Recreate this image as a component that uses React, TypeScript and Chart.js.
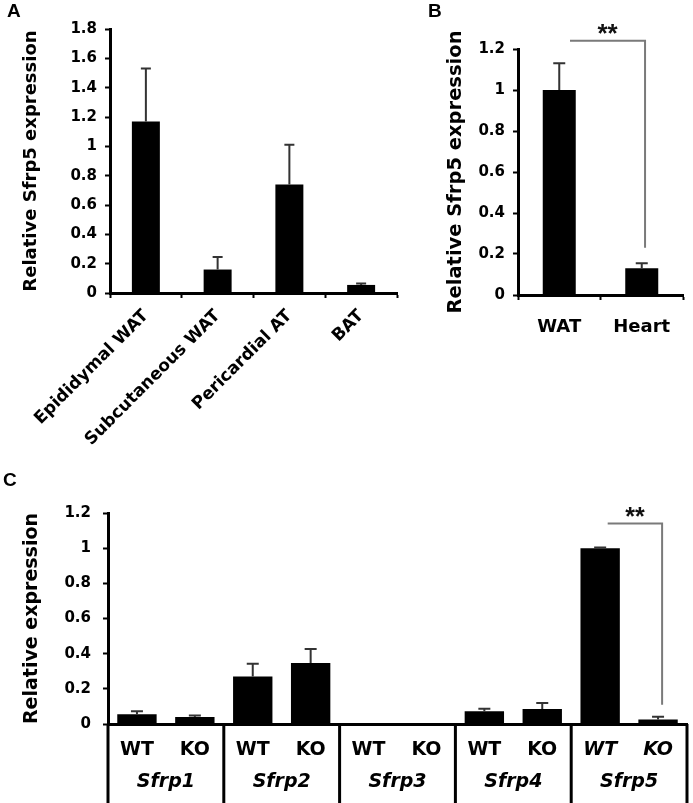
import React, { useEffect, useRef } from 'react';
import { Chart, registerables } from 'chart.js';

Chart.register(...registerables);

const FONT = "'DejaVu Sans', sans-serif";

// ---------- Panel A: Sfrp5 expression across adipose depots ----------
const tissueLabels = ['Epididymal WAT', 'Subcutaneous WAT', 'Pericardial AT', 'BAT'];
const tissueValues = [1.17, 0.16, 0.74, 0.055];
const tissueErrors = [0.36, 0.085, 0.27, 0.01];
const tissueTicks = [0, 0.2, 0.4, 0.6, 0.8, 1, 1.2, 1.4, 1.6, 1.8];

// ---------- Panel B: WAT vs Heart ----------
const organLabels = ['WAT', 'Heart'];
const organValues = [1.0, 0.13];
const organErrors = [0.13, 0.025];
const organTicks = [0, 0.2, 0.4, 0.6, 0.8, 1, 1.2];
const organSignificance = { label: '**', from: 0.13, to: 1.04, top: 1.24, bottom: 0.23 };

// ---------- Panel C: Sfrp family in WT vs KO ----------
const geneNames = ['Sfrp1', 'Sfrp2', 'Sfrp3', 'Sfrp4', 'Sfrp5'];
const genotypeLabels = ['WT', 'KO', 'WT', 'KO', 'WT', 'KO', 'WT', 'KO', 'WT', 'KO'];
const expressionValues = [0.055, 0.04, 0.27, 0.347, 0, 0, 0.072, 0.086, 1.0, 0.025];
const expressionErrors = [0.018, 0.008, 0.073, 0.08, 0, 0, 0.015, 0.034, 0.004, 0.016];
const expressionTicks = [0, 0.2, 0.4, 0.6, 0.8, 1, 1.2];
const expressionSignificance = { label: '**', from: 8.13, to: 9.07, top: 1.14, bottom: 0.11 };
const italicTickFrom = 8;

const errorBarPlugin = {
  id: 'errorBars',
  afterDatasetsDraw(chart: any, _args: any, opts: any) {
    const { ctx } = chart;
    const meta = chart.getDatasetMeta(0);
    const ys = chart.scales.y;
    const data = chart.data.datasets[0].data as number[];
    const errors = opts.errors as number[];
    ctx.save();
    ctx.strokeStyle = opts.color;
    ctx.lineWidth = opts.width;
    meta.data.forEach((bar: any, i: number) => {
      const e = errors[i];
      if (!e) return;
      const x = bar.x;
      const y0 = ys.getPixelForValue(data[i]);
      const y1 = ys.getPixelForValue(data[i] + e);
      ctx.beginPath();
      ctx.moveTo(x, y0);
      ctx.lineTo(x, y1);
      ctx.moveTo(x - opts.cap / 2, y1);
      ctx.lineTo(x + opts.cap / 2, y1);
      ctx.stroke();
    });
    ctx.restore();
  },
};

const significancePlugin = {
  id: 'significance',
  afterDatasetsDraw(chart: any, _args: any, opts: any) {
    const s = opts.mark;
    if (!s) return;
    const { ctx } = chart;
    const xs = chart.scales.x;
    const ys = chart.scales.y;
    const x1 = xs.getPixelForValue(s.from);
    const x2 = xs.getPixelForValue(s.to);
    const yt = ys.getPixelForValue(s.top);
    const yb = ys.getPixelForValue(s.bottom);
    ctx.save();
    ctx.strokeStyle = '#7a7a7a';
    ctx.lineWidth = 2;
    ctx.beginPath();
    ctx.moveTo(x1, yt);
    ctx.lineTo(x2, yt);
    ctx.lineTo(x2, yb);
    ctx.stroke();
    ctx.fillStyle = '#111';
    ctx.font = `bold ${opts.size}px 'Liberation Sans', Arial, sans-serif`;
    ctx.textAlign = 'center';
    ctx.textBaseline = 'alphabetic';
    ctx.fillText(s.label, (x1 + x2) / 2, yt + 1);
    ctx.restore();
  },
};

const groupPlugin = {
  id: 'groups',
  afterDraw(chart: any, _args: any, opts: any) {
    const { ctx, chartArea } = chart;
    const xs = chart.scales.x;
    const groups = opts.groups as string[];
    const nTicks = xs.ticks.length;
    const per = nTicks / groups.length;
    const boundary = (k: number) => {
      if (k <= 0) return chartArea.left;
      if (k >= nTicks) return chartArea.right;
      return (xs.getPixelForValue(k - 1) + xs.getPixelForValue(k)) / 2;
    };
    ctx.save();
    ctx.strokeStyle = '#000';
    ctx.lineWidth = 3;
    for (let g = 0; g <= groups.length; g++) {
      const bx = boundary(g * per);
      ctx.beginPath();
      ctx.moveTo(bx, chartArea.bottom);
      ctx.lineTo(bx, chart.height);
      ctx.stroke();
    }
    ctx.fillStyle = '#000';
    ctx.font = `italic bold 19px ${FONT}`;
    ctx.textAlign = 'center';
    ctx.textBaseline = 'middle';
    groups.forEach((name, g) => {
      const cx = (boundary(g * per) + boundary((g + 1) * per)) / 2;
      ctx.fillText(name, cx, chartArea.bottom + opts.offset);
    });
    ctx.restore();
  },
};

function yAxis(ticks: number[], title: string, titleSize: number, titlePad: number, axisWidth: number, tickPad: number) {
  return {
    min: 0,
    max: ticks[ticks.length - 1],
    afterBuildTicks: (s: any) => {
      s.ticks = ticks.map((v) => ({ value: v }));
    },
    afterFit: (s: any) => {
      s.width = axisWidth;
    },
    border: { display: true, color: '#000', width: 3 },
    grid: { display: true, drawOnChartArea: false, drawTicks: true, tickLength: 5, tickWidth: 2, tickColor: '#000' },
    ticks: {
      color: '#000',
      padding: tickPad,
      font: { family: FONT, weight: 'bold' as const, size: 15 },
      callback: (v: any) => String(v),
    },
    title: {
      display: true,
      text: title,
      color: '#000',
      font: { family: FONT, weight: 'bold' as const, size: titleSize },
      padding: { top: titlePad, bottom: 0 },
    },
  };
}

function buildA(): any {
  return {
    type: 'bar',
    data: {
      labels: tissueLabels,
      datasets: [{ data: tissueValues, backgroundColor: '#000', borderWidth: 0, barPercentage: 0.39, categoryPercentage: 1 }],
    },
    options: {
      animation: false,
      responsive: false,
      layout: { padding: { top: 29, right: 23, left: 0, bottom: 0 } },
      plugins: {
        legend: { display: false },
        tooltip: { enabled: false },
        errorBars: { errors: tissueErrors, color: '#333', width: 2, cap: 10 },
      },
      scales: {
        x: {
          afterFit: (s: any) => {
            s.height = 470 - 293;
          },
          border: { display: true, color: '#000', width: 3 },
          grid: { display: true, drawOnChartArea: false, drawTicks: true, tickLength: 5, tickWidth: 2, tickColor: '#000', offset: true },
          ticks: {
            color: '#000',
            padding: 8,
            minRotation: 45,
            maxRotation: 45,
            autoSkip: false,
            font: { family: FONT, weight: 'bold', size: 17 },
          },
        },
        y: yAxis(tissueTicks, 'Relative Sfrp5 expression', 18, 21, 110, 8),
      },
    },
    plugins: [errorBarPlugin],
  };
}

function buildB(): any {
  return {
    type: 'bar',
    data: {
      labels: organLabels,
      datasets: [{ data: organValues, backgroundColor: '#000', borderWidth: 0, barPercentage: 0.4, categoryPercentage: 1 }],
    },
    options: {
      animation: false,
      responsive: false,
      layout: { padding: { top: 49, right: 10, left: 0, bottom: 0 } },
      plugins: {
        legend: { display: false },
        tooltip: { enabled: false },
        errorBars: { errors: organErrors, color: '#333', width: 2, cap: 12 },
        significance: { mark: organSignificance, size: 26 },
      },
      scales: {
        x: {
          afterFit: (s: any) => {
            s.height = 380 - 295;
          },
          border: { display: true, color: '#000', width: 3 },
          grid: { display: true, drawOnChartArea: false, drawTicks: true, tickLength: 5, tickWidth: 2, tickColor: '#000', offset: true },
          ticks: {
            color: '#000',
            padding: 17,
            maxRotation: 0,
            autoSkip: false,
            font: { family: FONT, weight: 'bold', size: 18 },
          },
        },
        y: yAxis(organTicks, 'Relative Sfrp5 expression', 19.5, 24, 98, 8),
      },
    },
    plugins: [errorBarPlugin, significancePlugin],
  };
}

function buildC(): any {
  return {
    type: 'bar',
    data: {
      labels: genotypeLabels,
      datasets: [{ data: expressionValues, backgroundColor: '#000', borderWidth: 0, barPercentage: 0.68, categoryPercentage: 1 }],
    },
    options: {
      animation: false,
      responsive: false,
      layout: { padding: { top: 53, right: 6, left: 0, bottom: 0 } },
      plugins: {
        legend: { display: false },
        tooltip: { enabled: false },
        errorBars: { errors: expressionErrors, color: '#333', width: 2, cap: 12 },
        significance: { mark: expressionSignificance, size: 25 },
        groups: { groups: geneNames, offset: 58 },
      },
      scales: {
        x: {
          afterFit: (s: any) => {
            s.height = 343 - 264;
          },
          border: { display: true, color: '#000', width: 3 },
          grid: { display: true, drawOnChartArea: false, drawTicks: false },
          ticks: {
            color: '#000',
            padding: 15,
            maxRotation: 0,
            autoSkip: false,
            font: (ctx: any) => ({
              family: FONT,
              weight: 'bold',
              size: 19,
              style: ctx.index >= italicTickFrom ? 'italic' : 'normal',
            }),
          },
        },
        y: yAxis(expressionTicks, 'Relative expression', 19, 20.6, 108, 12),
      },
    },
    plugins: [errorBarPlugin, significancePlugin, groupPlugin],
  };
}

function ChartCanvas(props: { left: number; top: number; width: number; height: number; build: () => any }) {
  const ref = useRef<HTMLCanvasElement>(null);
  useEffect(() => {
    const chart = new Chart(ref.current as HTMLCanvasElement, props.build());
    return () => chart.destroy();
  }, []);
  return (
    <canvas
      ref={ref}
      width={props.width}
      height={props.height}
      style={{ position: 'absolute', left: props.left, top: props.top, width: props.width, height: props.height }}
    />
  );
}

const letterStyle = (left: number, top: number): React.CSSProperties => ({
  position: 'absolute',
  left,
  top,
  fontFamily: "'Liberation Sans', Arial, sans-serif",
  fontWeight: 'bold',
  fontSize: 19,
  lineHeight: '19px',
  color: '#000',
});

export default function App() {
  return (
    <div style={{ position: 'absolute', left: 0, top: 0, width: 693, height: 803, background: '#fff', overflow: 'hidden' }}>
      <ChartCanvas left={0} top={0} width={420} height={470} build={buildA} />
      <ChartCanvas left={420} top={0} width={273} height={380} build={buildB} />
      <ChartCanvas left={0} top={460} width={693} height={343} build={buildC} />
      <div style={letterStyle(7, 1)}>A</div>
      <div style={letterStyle(428, 1)}>B</div>
      <div style={letterStyle(3, 470)}>C</div>
    </div>
  );
}
